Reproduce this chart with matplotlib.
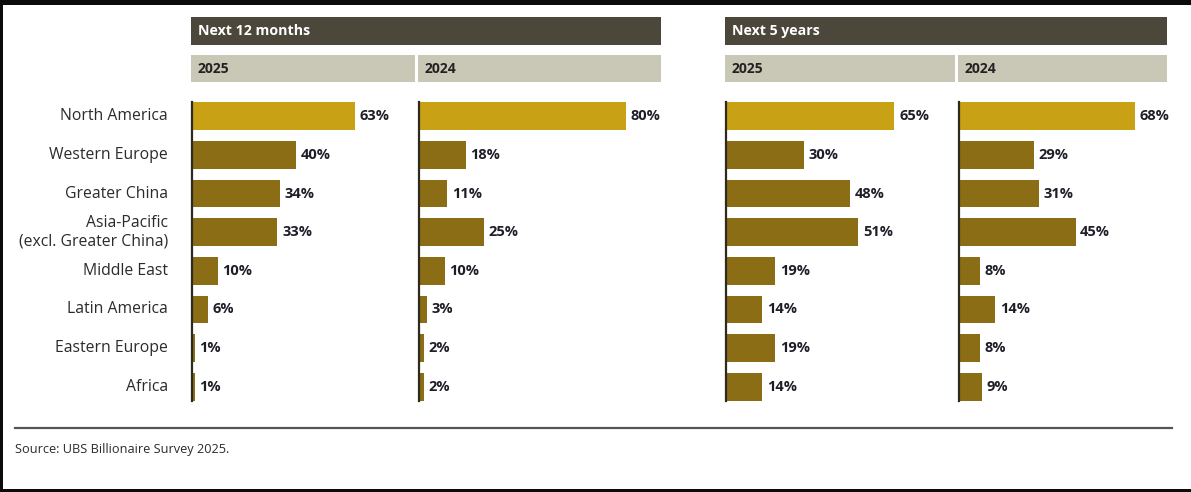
import matplotlib.pyplot as plt
from matplotlib.patches import Rectangle

regions = ["North America", "Western Europe", "Greater China",
           "Asia-Pacific\n(excl. Greater China)", "Middle East",
           "Latin America", "Eastern Europe", "Africa"]
m12_2025 = [63, 40, 34, 33, 10, 6, 1, 1]
m12_2024 = [80, 18, 11, 25, 10, 3, 2, 2]
y5_2025 = [65, 30, 48, 51, 19, 14, 19, 14]
y5_2024 = [68, 29, 31, 45, 8, 14, 8, 9]

headers = ["Next 12 months", "Next 5 years"]
years = ["2025", "2024"]

W, H = 1191, 492
GOLD = "#c9a114"
BROWN = "#8b6d16"
DARK = "#4b473a"
LIGHT = "#c9c7b5"
TXT = "#2b2b2b"
PX_PER_PCT = 2.59

plt.rcParams['font.family'] = ['Open Sans', 'DejaVu Sans']

fig = plt.figure(figsize=(W / 100, H / 100), dpi=100)


def fx(x):
    return x / W


def fy(y):
    return 1 - y / H


def box(x0, x1, y0, y1, color):
    fig.patches.append(Rectangle((fx(x0), fy(y1)), fx(x1 - x0), (y1 - y0) / H,
                                 transform=fig.transFigure, color=color, lw=0))


# black frame edges of the screenshot
box(0, W, 0, 5, "#0b0b0b")
box(0, 3, 0, H, "#0b0b0b")
box(0, W, 489, H, "#0b0b0b")

# header bars
for (x0, x1), title in zip([(191, 661), (725, 1167)], headers):
    box(x0, x1, 17, 45, DARK)
    fig.text(fx(x0 + 7), fy(31), title, color="white", fontsize=10.2,
             fontweight="bold", va="center")

panels = [(191, 415, m12_2025), (418, 661, m12_2024),
          (725, 955, y5_2025), (958, 1167, y5_2024)]
for i, (x0, x1, vals) in enumerate(panels):
    box(x0, x1, 55, 82, LIGHT)
    fig.text(fx(x0 + 7), fy(69), years[i % 2], color="#222222", fontsize=10,
             fontweight="bold", va="center")

    left = x0 + 1
    top, bottom = 97, 406
    ax = fig.add_axes([fx(left), fy(bottom), fx(x1 - left), (bottom - top) / H])
    ax.set_xlim(0, (x1 - left) / PX_PER_PCT)
    ax.set_ylim(7.5, -0.5)
    colors = [GOLD] + [BROWN] * (len(vals) - 1)
    ypos = range(len(vals))
    ax.barh(ypos, vals, height=0.72, color=colors)
    for y, v in zip(ypos, vals):
        ax.text(v + 1.8, y, f"{v}%", va="center", ha="left", fontsize=10.5,
                fontweight="bold", color="#1e1e28")
    for s in ["top", "right", "bottom"]:
        ax.spines[s].set_visible(False)
    ax.spines["left"].set_color("#2e2a20")
    ax.spines["left"].set_linewidth(1.6)
    ax.spines["left"].set_bounds(-0.38, 7.38)
    ax.set_xticks([])
    ax.set_yticks([])
    ax.patch.set_alpha(0)
    if i == 0:
        for y, name in zip(ypos, regions):
            ax.text(-24 / PX_PER_PCT, y, name, ha="right", va="center",
                    fontsize=11.3, color=TXT, linespacing=1.2)

# bottom rule and source
fig.add_artist(plt.Line2D([fx(15), fx(1172)], [fy(428), fy(428)],
                          color="#555555", lw=1.6, transform=fig.transFigure))
fig.text(fx(15), fy(449), "Source: UBS Billionaire Survey 2025.", fontsize=9.2,
         color=TXT, va="center")

fig.savefig("out.png", dpi=100, facecolor="white")
